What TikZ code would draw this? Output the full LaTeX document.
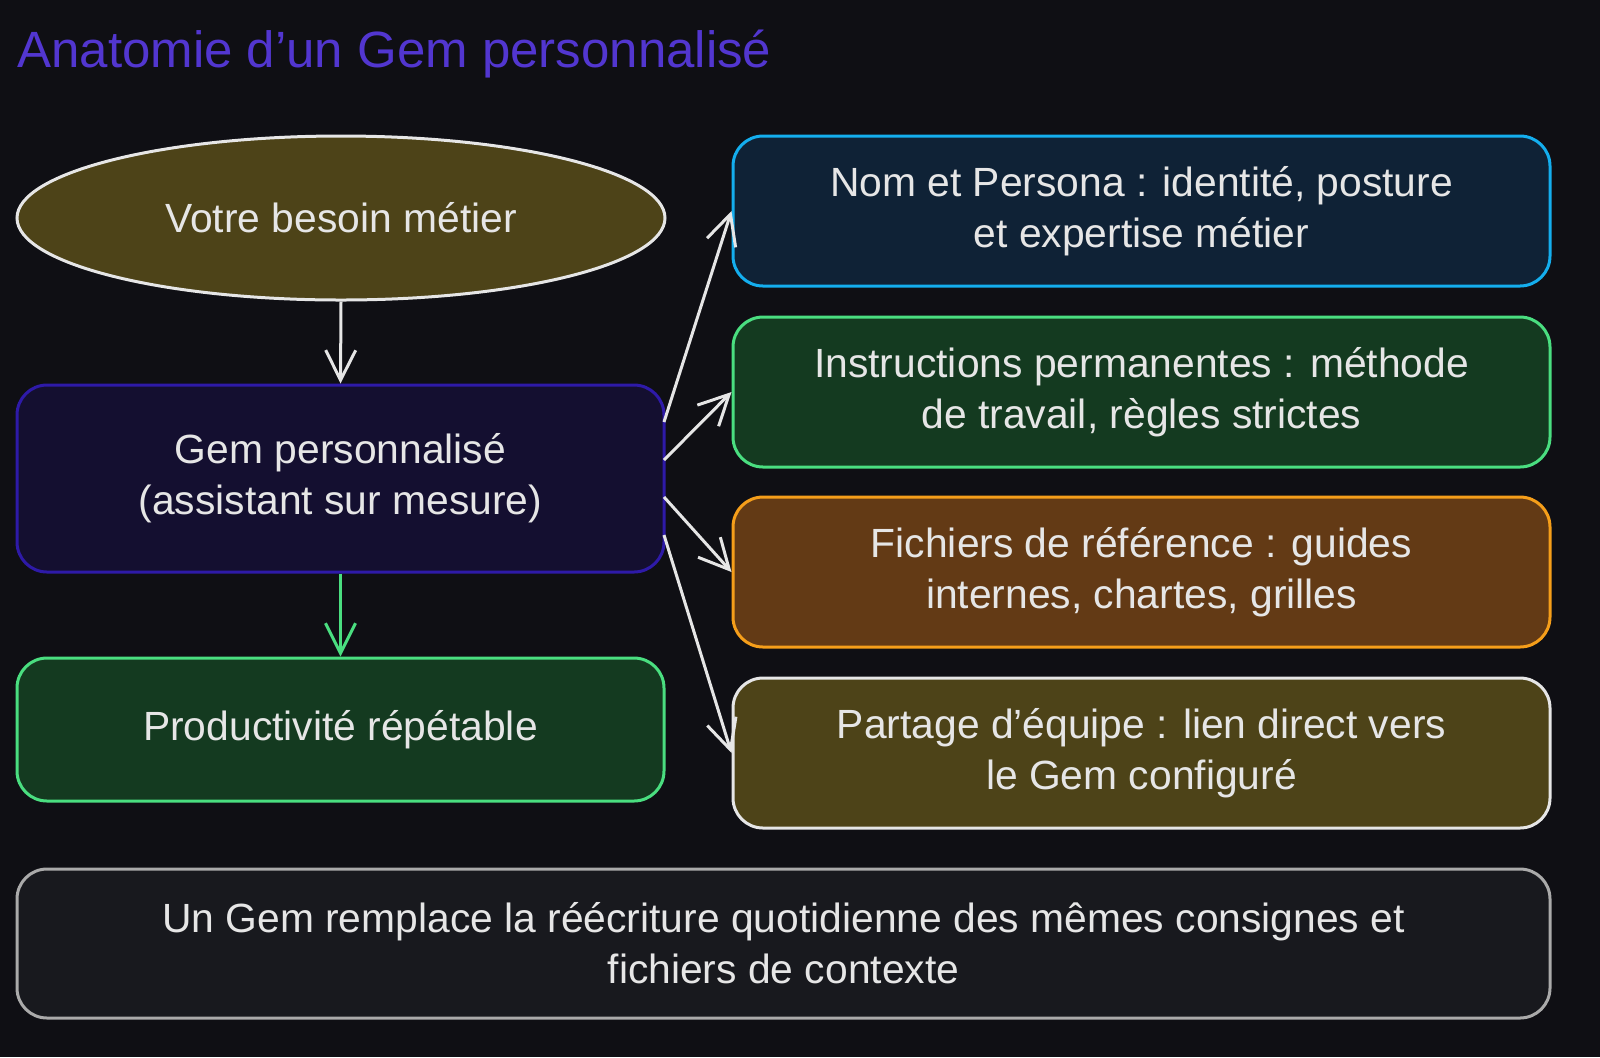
\documentclass[tikz,border=0pt]{standalone}
\usepackage{fontspec}
\setmainfont{Liberation Sans}
\usetikzlibrary{arrows.meta,shapes.geometric}
\definecolor{bg}{HTML}{0F0F14}
\definecolor{txt}{HTML}{E6E6E6}
\definecolor{olivef}{HTML}{4D4318}
\definecolor{gemf}{HTML}{140F30}\definecolor{gems}{HTML}{2E1AA8}
\definecolor{grf}{HTML}{143A20}\definecolor{grs}{HTML}{4ADE80}
\definecolor{blf}{HTML}{0F2236}\definecolor{bls}{HTML}{14AEEE}
\definecolor{orf}{HTML}{633A15}\definecolor{ors}{HTML}{F59E1A}
\definecolor{botf}{HTML}{18191E}\definecolor{bots}{HTML}{AAAAAA}
\definecolor{ttl}{HTML}{5236D0}
\newcommand{\apos}{\char"27\relax}
\begin{document}
\begin{tikzpicture}[x=0.5pt,y=-0.5pt,
 box/.style={draw,line width=1.5pt,rounded corners=15pt,text=txt,font=\fontsize{20.4}{25.5}\selectfont,align=center,inner sep=0},
 arr/.style={draw=txt,line width=1.5pt,-{Straight Barb[length=15pt,width=15pt,line width=1.5pt]}}]
\fill[bg] (0,0) rectangle (1600,1057);
\node[anchor=base west,text=ttl,font=\fontsize{25.5}{30}\selectfont,inner sep=0] (title) at (17,67) {Anatomie d\apos un Gem personnalisé};
\node[ellipse,draw=txt,fill=olivef,line width=1.5pt,minimum width=324pt,minimum height=82pt,text=txt,font=\fontsize{20.4}{25.5}\selectfont,inner sep=0] (need) at (341,218) {Votre besoin métier};
\node[box,draw=gems,fill=gemf,minimum width=323.5pt,minimum height=93.5pt] (gem) at (340.5,478.5) {Gem personnalisé\\(assistant sur mesure)};
\node[box,draw=grs,fill=grf,minimum width=323.5pt,minimum height=71.5pt] (prod) at (340.5,729.5) {Productivité répétable};
\node[box,draw=bls,fill=blf,minimum width=408.5pt,minimum height=75pt] (r1) at (1141.5,211) {Nom et Persona : identité, posture\\et expertise métier};
\node[box,draw=grs,fill=grf,minimum width=408.5pt,minimum height=75pt] (r2) at (1141.5,392) {Instructions permanentes : méthode\\de travail, règles strictes};
\node[box,draw=ors,fill=orf,minimum width=408.5pt,minimum height=75pt] (r3) at (1141.5,572) {Fichiers de référence : guides\\internes, chartes, grilles};
\node[box,draw=txt,fill=olivef,minimum width=408.5pt,minimum height=75pt] (r4) at (1141.5,753) {Partage d\apos équipe : lien direct vers\\le Gem configuré};
\node[box,draw=bots,fill=botf,minimum width=766.5pt,minimum height=74.5pt] (bot) at (783.5,943.5) {Un Gem remplace la réécriture quotidienne des mêmes consignes et\\fichiers de contexte};
\draw[arr] (need.south) -- (gem.north);
\draw[arr,draw=grs,-{Straight Barb[length=15pt,width=15pt,line width=1.5pt,color=grs]}] (gem.south) -- (prod.north);
\coordinate (g1) at (664,422);\coordinate (g2) at (664,460);
\coordinate (g3) at (664,497);\coordinate (g4) at (664,535);
\draw[arr] (g1) -- (r1.west);
\draw[arr] (g2) -- (r2.west);
\draw[arr] (g3) -- (r3.west);
\draw[arr] (g4) -- (r4.west);
\pgfresetboundingbox
\useasboundingbox (0,0) rectangle (1600,1057);
\end{tikzpicture}
\end{document}
